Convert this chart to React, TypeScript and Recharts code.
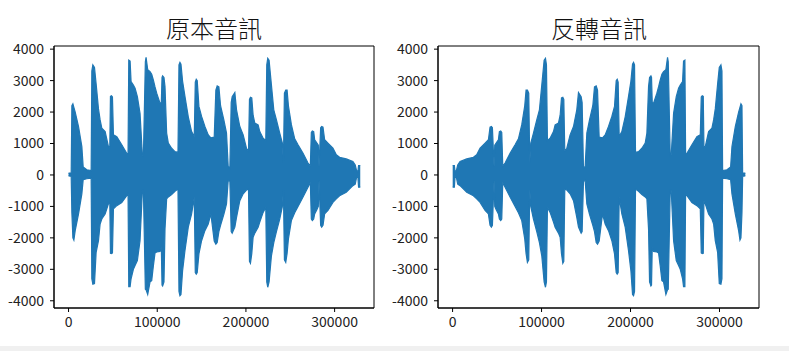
import React from 'react'
import { AreaChart, Area, XAxis, YAxis, ReferenceArea } from 'recharts'

// sample count of the clip (x axis ends a bit past the last sample)
const TOTAL = 329000

// envelope of the waveform: sample index, peak above / below zero
const sampleIdx = [
  0, 2600, 3000, 3750, 4900, 6000, 7500, 11250, 15000, 16500, 20600, 25500,
  26250, 27400, 29250, 31100, 33750, 35600, 37500, 41250, 45000, 46500,
  47250, 48400, 49500, 50600, 54400, 60000, 65600, 67100,
  67900, 69400, 70500, 73100, 75000, 77600, 80600, 83250, 84400,
  86600, 87400, 89250, 91900, 93750, 95600, 97500, 99400, 103100, 104600,
  105400, 106100, 107600, 108750, 110600, 112500, 116250, 120000, 123400,
  124500, 125600, 126750, 128600, 131250, 135000, 138750, 141750,
  142900, 144000, 145100, 147000, 150000, 153750, 157500, 160500, 164250,
  166100, 167600, 169500, 171400, 175100, 178100, 180000, 181900,
  183400, 184500, 187500, 189400, 193100, 196900, 200600, 202900,
  204000, 205100, 206600, 208100, 210000, 213750, 215600, 219400, 222400,
  223500, 224600, 226100, 228750, 231400, 234400, 238100, 241100, 242250,
  243400, 244900, 246400, 247900, 251250, 255000, 258750, 264400, 270000, 272600,
  273750, 274900, 276400, 277500, 280100, 281600, 282400,
  284250, 285400, 286900, 288750, 292500, 298100, 301900, 305600, 313100,
  320600, 323250, 324750, 326250, 327000, 328900,
]

const upperPeak = [
  60, 60, 70, 2200, 2260, 2150, 2000, 1540, 900, 250, 165, 140,
  3300, 3500, 3420, 2900, 2100, 1750, 1490, 1380, 900, 880,
  2500, 2520, 2480, 1275, 1220, 960, 690, 680,
  3650, 3620, 2970, 2860, 2760, 2490, 1960, 640, 600,
  3600, 3740, 3350, 3285, 3200, 3020, 2800, 2600, 2280, 2300,
  3100, 3150, 3100, 2810, 1330, 1010, 850, 740, 720,
  3500, 3580, 3520, 2980, 2500, 1850, 1380, 1220,
  2950, 3040, 3000, 2180, 1860, 1540, 1275, 1180, 1200,
  2700, 2830, 2800, 2200, 1750, 1330, 270, 220,
  2300, 2490, 2620, 2070, 1540, 1275, 850, 750,
  2400, 2470, 2450, 1900, 1650, 1590, 1380, 1170, 1100,
  3500, 3710, 3650, 2860, 2070, 1750, 1330, 1010, 380,
  2600, 2700, 2700, 2200, 1600, 1150, 960, 690, 380, 280,
  1350, 1400, 1380, 1120, 1010, 950, 270,
  1500, 1540, 1520, 1120, 1010, 850, 640, 560, 510,
  430, 320, 140, 110, 300, 300,
]

const lowerPeak = [
  -30, -40, -60, -1200, -2000, -2070, -1770, -1240, -600, -150, -120, -100,
  -3300, -3470, -3450, -2460, -2090, -1560, -1400, -1240, -920, -820,
  -2490, -2500, -2480, -1080, -975, -880, -660, -600,
  -3550, -3550, -3300, -3000, -2880, -2720, -2090, -500, -480,
  -3630, -3650, -3800, -3400, -3360, -2900, -2480, -2450, -2430, -2300,
  -3500, -3530, -3400, -1720, -760, -700, -620, -520, -450,
  -3700, -3840, -3800, -3040, -2410, -1660, -1240, -710,
  -3100, -3150, -3100, -2510, -2090, -1770, -1560, -1240, -2100,
  -2200, -2150, -1800, -1600, -1250, -920, -180, -200,
  -1800, -1850, -1660, -1350, -820, -600, -480, -450,
  -2750, -2810, -2500, -1980, -1850, -1660, -1500, -1190, -1030,
  -3400, -3570, -3400, -2570, -2150, -1800, -1400, -1000, -450,
  -2700, -2780, -2500, -2035, -1450, -1200, -1000, -700, -390, -240,
  -1400, -1450, -1400, -1240, -1100, -1000, -180,
  -1600, -1660, -1600, -1240, -1130, -870, -760, -660, -550,
  -340, -290, -80, -60, -390, -390,
]

const xTicks = [0, 100000, 200000, 300000]
const yTicks = [-4000, -3000, -2000, -1000, 0, 1000, 2000, 3000, 4000]
const X_DOMAIN: [number, number] = [-16400, 344400]
const Y_DOMAIN: [number, number] = [-4230, 4100]

const original = sampleIdx.map((t, i) => ({ t, range: [lowerPeak[i], upperPeak[i]] }))
// the second plot is the same clip played backwards
const reversed = [...original].reverse().map(d => ({ t: TOTAL - d.t, range: d.range }))

const FONT = '"Noto Sans CJK TC", "Noto Sans", sans-serif'
const BLUE = '#1f77b4'
const tickStyle = { fill: '#222', fontSize: 14, fontFamily: FONT }

function Wave({
  data,
  width,
  yAxisWidth,
  marginRight,
}: {
  data: { t: number; range: number[] }[]
  width: number
  yAxisWidth: number
  marginRight: number
}) {
  return (
    <AreaChart
      width={width}
      height={346}
      data={data}
      margin={{ top: 46, right: marginRight, bottom: 8, left: 8 }}
    >
      <XAxis
        dataKey="t"
        type="number"
        domain={X_DOMAIN}
        ticks={xTicks}
        allowDataOverflow
        height={30}
        tick={tickStyle}
        tickSize={4}
        tickMargin={5}
        tickLine={{ stroke: '#000' }}
        axisLine={{ stroke: '#000' }}
        interval={0}
      />
      <YAxis
        type="number"
        domain={Y_DOMAIN}
        ticks={yTicks}
        allowDataOverflow
        width={yAxisWidth}
        tick={tickStyle}
        tickSize={4}
        tickMargin={6}
        tickLine={{ stroke: '#000' }}
        axisLine={{ stroke: '#000' }}
        interval={0}
      />
      <ReferenceArea
        x1={X_DOMAIN[0]}
        x2={X_DOMAIN[1]}
        y1={Y_DOMAIN[0]}
        y2={Y_DOMAIN[1]}
        fill="none"
        stroke="#000"
        strokeWidth={1}
        fillOpacity={0}
      />
      <Area
        type="linear"
        dataKey="range"
        stroke={BLUE}
        strokeWidth={1.2}
        fill={BLUE}
        fillOpacity={1}
        dot={false}
        activeDot={false}
        isAnimationActive={false}
      />
    </AreaChart>
  )
}

const titleStyle: React.CSSProperties = {
  position: 'absolute',
  top: 14,
  fontSize: 24,
  fontWeight: 300,
  lineHeight: '27px',
  fontFamily: FONT,
  color: '#111',
  textAlign: 'center',
  width: 200,
}

export default function App() {
  return (
    <div
      style={{
        position: 'fixed',
        left: 0,
        top: 0,
        width: 789,
        height: 351,
        background: '#fff',
        overflow: 'hidden',
      }}
    >
      <div style={{ ...titleStyle, left: 114 }}>原本音訊</div>
      <div style={{ ...titleStyle, left: 499 }}>反轉音訊</div>

      <div style={{ position: 'absolute', left: 0, top: 0 }}>
        <Wave data={original} width={395} yAxisWidth={46} marginRight={21} />
      </div>
      <div style={{ position: 'absolute', left: 380, top: 0 }}>
        <Wave data={reversed} width={409} yAxisWidth={50} marginRight={30} />
      </div>

      <div
        style={{
          position: 'absolute',
          left: 0,
          top: 346,
          width: 789,
          height: 5,
          background: '#f0f0f0',
        }}
      />
    </div>
  )
}
